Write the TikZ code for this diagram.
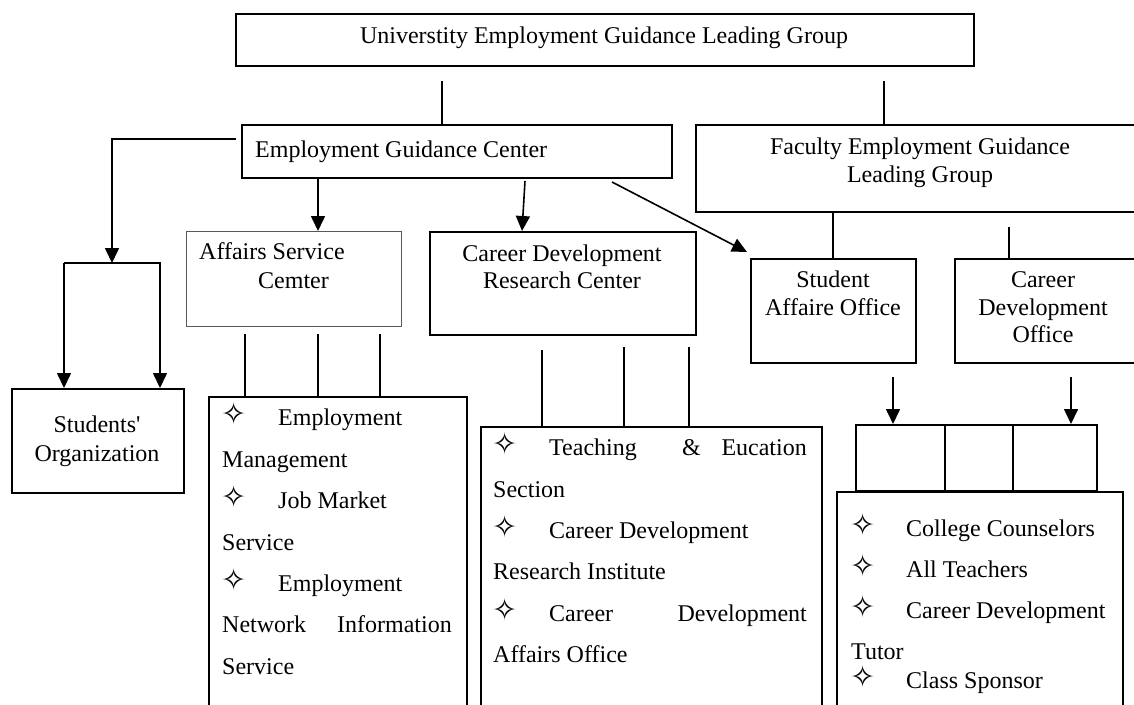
\documentclass[tikz,border=0pt]{standalone}
\usepackage{fontspec}
\setmainfont{Liberation Serif}
\newfontfamily\starfont{DejaVu Sans}
\usetikzlibrary{arrows.meta,calc}
\newcommand\mystar{{\starfont\fontsize{30}{30}\selectfont ✧}}
\begin{document}
\begin{tikzpicture}[x=1pt,y=-1pt,
  font=\fontsize{24}{28}\selectfont,
  box/.style={draw, line width=1.5pt, rectangle, inner sep=0pt, anchor=north west},
  thinbox/.style={draw=black!65, line width=1pt, rectangle, inner sep=0pt, anchor=north west},
  conn/.style={line width=1.5pt},
  arr/.style={line width=1.6pt, -{Triangle[width=14pt,length=15pt]}},
  txt/.style={inner sep=0pt, anchor=base west},
  rtxt/.style={inner sep=0pt, anchor=base east},
  ctxt/.style={inner sep=0pt, anchor=base},
  startxt/.style={inner sep=0pt, anchor=south west}]
\useasboundingbox (0,0) rectangle (1134,704);

% boxes
\node[box, minimum width=738pt, minimum height=52pt] (top) at (235,13) {};
\node[box, minimum width=430pt, minimum height=53pt] (egc) at (241,124) {};
\node[box, minimum width=460pt, minimum height=87pt] (fac) at (695,124) {};
\node[thinbox, minimum width=215pt, minimum height=95pt] (asc) at (186,231) {};
\node[box, minimum width=266pt, minimum height=103pt] (cdrc) at (429,231) {};
\node[box, minimum width=165pt, minimum height=104pt] (sao) at (750,258) {};
\node[box, minimum width=200pt, minimum height=104pt] (cdo) at (954,258) {};
\node[box, minimum width=172pt, minimum height=104pt] (stud) at (11,388) {};
\node[box, minimum width=258pt, minimum height=330pt] (asl) at (208,396) {};
\node[box, minimum width=341pt, minimum height=300pt] (cdl) at (480,426) {};
\node[box, minimum width=89pt, minimum height=66pt] (sb1) at (855,424) {};
\node[box, minimum width=68pt, minimum height=66pt] (sb2) at (944,424) {};
\node[box, minimum width=84pt, minimum height=66pt] (sb3) at (1012,424) {};
\node[box, minimum width=286pt, minimum height=240pt] (fcl) at (836,491) {};

% box texts
\node[ctxt] (topT) at (604,43) {Universtity Employment Guidance Leading Group};
\node[txt] (egcT) at (255,157) {Employment Guidance Center};
\node[ctxt] (facT1) at (920,154) {Faculty Employment Guidance};
\node[ctxt] (facT2) at (920,182) {Leading Group};
\node[txt] (ascT1) at (199,259) {Affairs Service};
\node[txt] (ascT2) at (258,288) {Cemter};
\node[ctxt] (cdrcT1) at (562,261) {Career Development};
\node[ctxt] (cdrcT2) at (562,288) {Research Center};
\node[ctxt] (saoT1) at (833,287) {Student};
\node[ctxt] (saoT2) at (833,315) {Affaire Office};
\node[ctxt] (cdoT1) at (1043,287) {Career};
\node[ctxt] (cdoT2) at (1043,315) {Development};
\node[ctxt] (cdoT3) at (1043,342) {Office};
\node[ctxt] (studT1) at (97,432) {Students\textquotesingle};
\node[ctxt] (studT2) at (97,461) {Organization};

% affairs list
\node[startxt] (as1) at (221,425) {\mystar};
\node[txt] (a1) at (278,425) {Employment};
\node[txt] (a2) at (222,467) {Management};
\node[startxt] (as2) at (221,508) {\mystar};
\node[txt] (a3) at (278,508) {Job Market};
\node[txt] (a4) at (222,550) {Service};
\node[startxt] (as3) at (221,591) {\mystar};
\node[txt] (a5) at (278,591) {Employment};
\node[txt] (a6) at (222,632) {Network};
\node[rtxt] (a7) at (452,632) {Information};
\node[txt] (a8) at (222,674) {Service};

% career development research list
\node[startxt] (cs1) at (492,455) {\mystar};
\node[txt] (c1) at (549,455) {Teaching};
\node[txt] (c2) at (682,455) {\&};
\node[rtxt] (c3) at (807,455) {Eucation};
\node[txt] (c4) at (493,497) {Section};
\node[startxt] (cs2) at (492,538) {\mystar};
\node[txt] (c5) at (549,538) {Career Development};
\node[txt] (c6) at (493,579) {Research Institute};
\node[startxt] (cs3) at (492,621) {\mystar};
\node[txt] (c7) at (549,621) {Career};
\node[rtxt] (c8) at (807,621) {Development};
\node[txt] (c9) at (493,662) {Affairs Office};

% faculty list
\node[startxt] (fs1) at (850,536) {\mystar};
\node[txt] (f1) at (906,536) {College Counselors};
\node[startxt] (fs2) at (850,577) {\mystar};
\node[txt] (f2) at (906,577) {All Teachers};
\node[startxt] (fs3) at (850,618) {\mystar};
\node[txt] (f3) at (906,618) {Career Development};
\node[txt] (f4) at (851,659) {Tutor};
\node[startxt] (fs4) at (850,688) {\mystar};
\node[txt] (f5) at (906,688) {Class Sponsor};

% connector start coordinates
\coordinate (k1) at (442,81);
\coordinate (k2) at (884,81);
\coordinate (k3) at (236,139);
\coordinate (split) at (112,263);
\coordinate (splitL) at (64,263);
\coordinate (splitR) at (161,263);
\coordinate (k4) at (525,181);
\coordinate (k5) at (612,182);
\coordinate (k6) at (1009,227);
\coordinate (l1) at (245,334);
\coordinate (l2) at (318,334);
\coordinate (l3) at (380,334);
\coordinate (m1) at (542,350);
\coordinate (m2) at (624,347);
\coordinate (m3) at (689,347);
\coordinate (n1) at (893,377);
\coordinate (n2) at (1071,377);

% connectors
\draw[conn] (k1) -- (k1 |- egc.north);
\draw[conn] (k2) -- (k2 |- fac.north);
\draw[arr] (k3) -| (split);
\draw[conn] (splitL) -- (splitR);
\draw[arr] (splitL) -- (splitL |- stud.north);
\draw[arr] ([xshift=-1pt]splitR) -- ([xshift=-1pt]splitR |- stud.north);
\draw[arr] (egc.south -| l2) -- (l2 |- asc.north);
\draw[arr] (k4) -- ($(cdrc.north west)+(93,0)$);
\draw[arr] (k5) -- ($(sao.north west)+(-3,-6)$);
\draw[conn] (fac.south -| 833,0) -- (sao.north -| 833,0);
\draw[conn] (k6) -- (k6 |- cdo.north);
\draw[conn] (l1) -- (l1 |- asl.north);
\draw[conn] (l2) -- (l2 |- asl.north);
\draw[conn] (l3) -- (l3 |- asl.north);
\draw[conn] (m1) -- (m1 |- cdl.north);
\draw[conn] (m2) -- (m2 |- cdl.north);
\draw[conn] (m3) -- (m3 |- cdl.north);
\draw[arr] (n1) -- (n1 |- sb1.north);
\draw[arr] (n2) -- (n2 |- sb3.north);
\end{tikzpicture}
\end{document}
